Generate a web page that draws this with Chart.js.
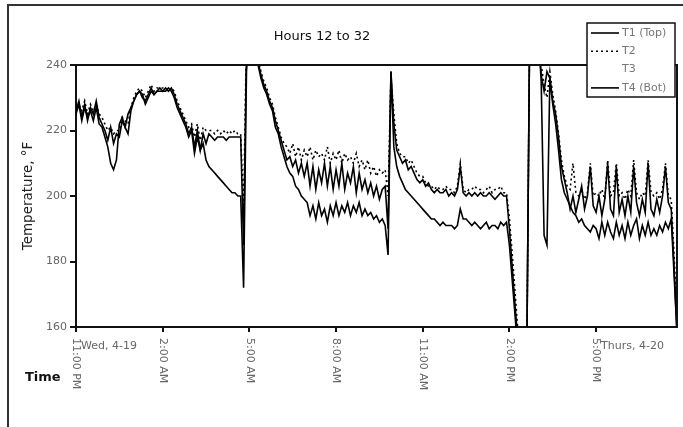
<!DOCTYPE html>
<html>
<head>
<meta charset="utf-8">
<script src="https://cdn.jsdelivr.net/npm/chart.js@4.4.1/dist/chart.umd.min.js"></script>
<style>
  html, body { margin: 0; padding: 0; background: #fff; }
  #wrap { position: relative; width: 683px; height: 427px; }
</style>
</head>
<body>
<div id="wrap"><canvas id="tempChart" width="683" height="427"></canvas></div>
<script>
// --- Data (logger samples every 0.1 h, starting 11:00 PM) ---
const sampleStepHours = 0.1;
const chartTitle = 'Hours 12 to 32';
const seriesLabels = ['T1 (Top)', 'T2', 'T3', 'T4 (Bot)'];

const t1Top = [
  226, 229, 224, 228, 223, 227, 225, 229, 224, 222,
  220, 217, 221, 216, 219, 218, 223, 221, 219, 226,
  229, 231, 232, 230, 229, 231, 233, 231, 232, 233,
  232, 233, 232, 233, 231, 228, 226, 224, 222, 219,
  221, 215, 220, 214, 219, 216, 219, 218, 217, 218,
  218, 218, 217, 218, 218, 218, 218, 218, 185, 245,
  250, 250, 250, 241, 237, 234, 232, 229, 227, 223,
  220, 217, 214, 211, 212, 209, 211, 207, 210, 206,
  210, 203, 209, 202, 208, 204, 210, 203, 209, 202,
  208, 203, 210, 202, 207, 204, 209, 201, 207, 202,
  205, 201, 204, 200, 203, 199, 202, 203, 190, 238,
  222, 214, 212, 210, 211, 208, 209, 207, 205, 204,
  205, 203, 204, 202, 201, 202, 201, 201, 202, 200,
  201, 200, 202, 209, 201, 200, 201, 200, 201, 200,
  201, 200, 200, 201, 200, 199, 200, 201, 200, 200,
  190, 178, 166, 155, 150, 150, 150, 250, 250, 250,
  250, 237, 232, 238, 236, 229, 225, 218, 209, 205,
  201, 196, 200, 195, 199, 203, 196, 200, 209, 197,
  195, 200, 194, 199, 210, 196, 194, 209, 195, 199,
  194, 200, 195, 209, 198, 194, 199, 195, 210, 196,
  194, 199, 195, 200, 209, 198, 196, 178, 158
];

const t2 = [
  227, 228, 226, 229, 225, 228, 226, 228, 225, 224,
  222, 220, 221, 219, 220, 220, 224, 223, 222, 227,
  230, 232, 233, 232, 230, 232, 234, 232, 233, 233,
  233, 233, 232, 233, 232, 229, 227, 225, 223, 221,
  222, 218, 222, 217, 221, 220, 220, 220, 219, 220,
  219, 220, 219, 220, 219, 220, 219, 219, 195, 250,
  250, 250, 250, 242, 238, 235, 233, 230, 228, 224,
  221, 218, 216, 215, 213, 216, 212, 215, 211, 214,
  212, 215, 211, 214, 212, 213, 211, 215, 210, 213,
  211, 214, 210, 213, 211, 212, 210, 213, 209, 211,
  208, 211, 207, 209, 206, 208, 207, 208, 200, 236,
  225, 216, 213, 212, 212, 210, 211, 209, 207, 206,
  206, 204, 203, 203, 202, 203, 202, 202, 203, 202,
  202, 201, 203, 210, 202, 201, 202, 202, 203, 202,
  202, 201, 202, 203, 201, 202, 202, 203, 201, 201,
  193, 182, 170, 158, 150, 150, 150, 250, 250, 250,
  250, 240, 234, 230, 238, 231, 226, 219, 211, 206,
  203, 202, 210, 201, 200, 202, 199, 201, 210, 200,
  201, 200, 202, 199, 211, 200, 201, 210, 200, 201,
  199, 202, 200, 211, 201, 199, 201, 200, 211, 201,
  200, 201, 199, 202, 210, 200, 199, 182, 162
];

const t3 = []; // listed in the legend, no visible trace

const t4Bot = [
  225, 228, 223, 227, 224, 226, 223, 227, 222, 221,
  218, 215, 210, 208, 211, 222, 224, 221, 225, 227,
  229, 231, 232, 231, 228, 230, 232, 231, 232, 232,
  232, 232, 233, 232, 230, 227, 225, 223, 221, 218,
  220, 213, 218, 214, 216, 211, 209, 208, 207, 206,
  205, 204, 203, 202, 201, 201, 200, 200, 172, 238,
  250, 250, 250, 240, 236, 233, 231, 228, 226, 221,
  219, 215, 212, 209, 207, 206, 203, 202, 200, 199,
  198, 194, 197, 193, 198, 194, 196, 192, 197, 194,
  198, 194, 197, 195, 198, 194, 197, 195, 198, 194,
  196, 194, 195, 193, 194, 192, 193, 191, 182, 238,
  215, 209, 206, 204, 202, 201, 200, 199, 198, 197,
  196, 195, 194, 193, 193, 192, 191, 192, 191, 191,
  191, 190, 191, 196, 193, 193, 192, 191, 192, 191,
  190, 191, 192, 190, 191, 191, 190, 192, 191, 192,
  185, 174, 163, 152, 150, 150, 150, 250, 250, 250,
  250, 235, 188, 185, 236, 228, 222, 214, 205, 201,
  199, 197, 195, 194, 192, 193, 191, 190, 189, 191,
  190, 187, 192, 188, 192, 189, 187, 192, 188, 191,
  187, 192, 188, 191, 193, 187, 191, 188, 192, 188,
  190, 188, 191, 189, 192, 190, 193, 176, 158
];

const xTickHours = [0, 3, 6, 9, 12, 15, 18];
const xTickLabels = ['11:00 PM', '2:00 AM', '5:00 AM', '8:00 AM', '11:00 AM', '2:00 PM', '5:00 PM'];
const dateLabelHours = [0, 18];
const dateLabelTexts = ['Wed, 4-19', 'Thurs, 4-20'];
const yTicks = [160, 180, 200, 220, 240];
const xMaxHours = 20.8;

const FONT = '"DejaVu Sans", sans-serif';

function toPoints(values) {
    return values.map((v, i) => ({ x: +(i * sampleStepHours).toFixed(2), y: v }));
}

// --- Texts, frame and legend drawn on top ---
const decorations = {
    id: 'decorations',
    afterDatasetsDraw(chart) {
        const { ctx, chartArea: a } = chart;
        ctx.save();
        ctx.strokeStyle = '#111';
        ctx.lineWidth = 2;
        ctx.beginPath();
        ctx.moveTo(a.left, a.top);
        ctx.lineTo(a.right, a.top);
        ctx.lineTo(a.right, a.bottom);
        ctx.stroke();
        ctx.restore();
    },
    afterDraw(chart) {
        const { ctx, chartArea: a } = chart;
        const xs = chart.scales.x, ys = chart.scales.y;
        ctx.save();

        // outer frame (top and left edges only)
        ctx.strokeStyle = '#333';
        ctx.lineWidth = 2;
        ctx.beginPath();
        ctx.moveTo(8, 427);
        ctx.lineTo(8, 5);
        ctx.lineTo(683, 5);
        ctx.stroke();

        // title
        ctx.fillStyle = '#111';
        ctx.font = '13px ' + FONT;
        ctx.textAlign = 'center';
        ctx.textBaseline = 'middle';
        ctx.fillText(chartTitle, 322, 37);

        // y tick labels
        ctx.fillStyle = '#666';
        ctx.font = '11px ' + FONT;
        ctx.textAlign = 'right';
        yTicks.forEach(v => ctx.fillText(String(v), a.left - 9, ys.getPixelForValue(v)));

        // y axis title
        ctx.save();
        ctx.translate(28, (a.top + a.bottom) / 2);
        ctx.rotate(-Math.PI / 2);
        ctx.fillStyle = '#222';
        ctx.font = '13.5px ' + FONT;
        ctx.textAlign = 'center';
        ctx.fillText('Temperature, °F', 0, 0);
        ctx.restore();

        // x tick labels, reading downward
        ctx.fillStyle = '#666';
        ctx.font = '11px ' + FONT;
        xTickHours.forEach((h, i) => {
            ctx.save();
            ctx.translate(xs.getPixelForValue(h), a.bottom + 11);
            ctx.rotate(Math.PI / 2);
            ctx.textAlign = 'left';
            ctx.textBaseline = 'middle';
            ctx.fillText(xTickLabels[i], 0, 0);
            ctx.restore();
        });

        // day labels
        ctx.textAlign = 'left';
        ctx.textBaseline = 'middle';
        dateLabelHours.forEach((h, i) => {
            ctx.fillText(dateLabelTexts[i], xs.getPixelForValue(h) + 5, a.bottom + 19);
        });

        // x axis title
        ctx.fillStyle = '#111';
        ctx.font = 'bold 13px ' + FONT;
        ctx.fillText('Time', 25, 378);

        // legend box
        const lx = 587, ly = 23, lw = 88, lh = 74;
        ctx.fillStyle = '#fff';
        ctx.fillRect(lx, ly, lw, lh);
        ctx.strokeStyle = '#111';
        ctx.lineWidth = 1.5;
        ctx.strokeRect(lx, ly, lw, lh);
        chart.data.datasets.forEach((ds, i) => {
            const y = ly + 10 + i * 18.3;
            if (ds.borderWidth > 0) {
                ctx.save();
                ctx.strokeStyle = ds.borderColor;
                ctx.lineWidth = ds.borderWidth;
                ctx.setLineDash(ds.borderDash || []);
                ctx.beginPath();
                ctx.moveTo(lx + 4, y);
                ctx.lineTo(lx + 32, y);
                ctx.stroke();
                ctx.restore();
            }
            ctx.fillStyle = '#777';
            ctx.font = '11px ' + FONT;
            ctx.textAlign = 'left';
            ctx.fillText(ds.label, lx + 35, y);
        });

        ctx.restore();
    }
};

const ctx = document.getElementById('tempChart').getContext('2d');
const chart = new Chart(ctx, {
    type: 'line',
    data: {
        datasets: [
            { label: seriesLabels[0], data: toPoints(t1Top), borderColor: '#000', borderWidth: 1.6 },
            { label: seriesLabels[1], data: toPoints(t2), borderColor: '#000', borderWidth: 1.6, borderDash: [2, 3] },
            { label: seriesLabels[2], data: toPoints(t3), borderColor: '#000', borderWidth: 0 },
            { label: seriesLabels[3], data: toPoints(t4Bot), borderColor: '#000', borderWidth: 1.6 }
        ]
    },
    options: {
        responsive: false,
        animation: false,
        devicePixelRatio: 1,
        layout: { padding: { left: 70, right: 6, top: 65, bottom: 95 } },
        elements: { point: { radius: 0 }, line: { tension: 0, fill: false } },
        plugins: { legend: { display: false }, title: { display: false }, tooltip: { enabled: false } },
        scales: {
            x: {
                type: 'linear',
                min: 0,
                max: xMaxHours,
                afterBuildTicks: scale => { scale.ticks = xTickHours.map(v => ({ value: v })); },
                ticks: { display: false },
                grid: { drawOnChartArea: false, drawTicks: true, tickLength: 5, color: '#111', lineWidth: 2 },
                border: { display: true, color: '#111', width: 2 }
            },
            y: {
                min: 160,
                max: 240,
                afterBuildTicks: scale => { scale.ticks = yTicks.map(v => ({ value: v })); },
                ticks: { display: false },
                grid: { drawOnChartArea: false, drawTicks: true, tickLength: 6, color: '#111', lineWidth: 2 },
                border: { display: true, color: '#111', width: 2 }
            }
        }
    },
    plugins: [decorations]
});
</script>
</body>
</html>
